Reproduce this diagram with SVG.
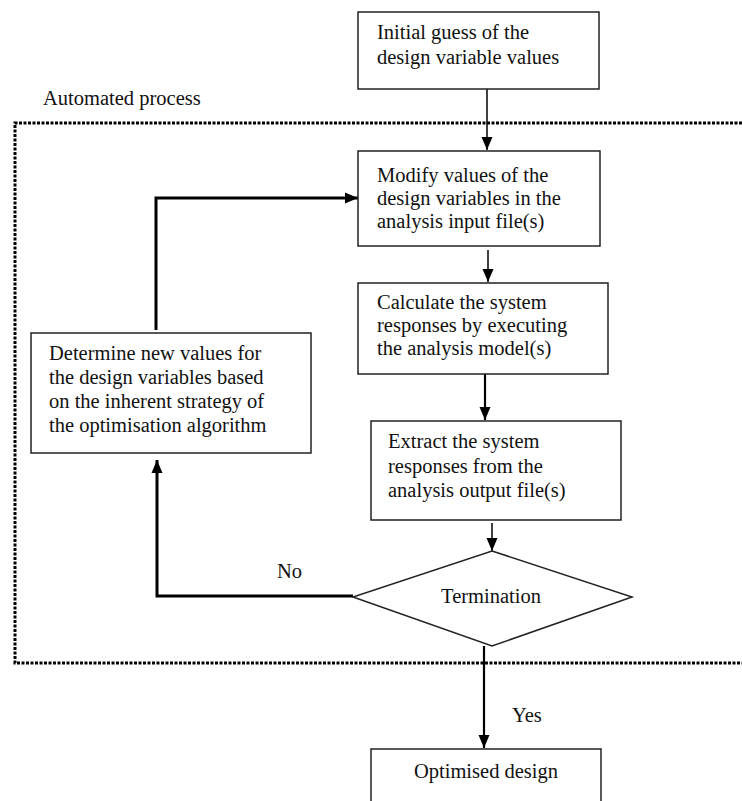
<svg xmlns="http://www.w3.org/2000/svg" width="742" height="801" viewBox="0 0 742 801">
<style>
.box{fill:#fff;stroke:#222;stroke-width:1.5}
.t{font-family:"Liberation Serif","Times New Roman",serif;font-size:20.5px;fill:#111}
.c{fill:none;stroke:#000}
.thin{stroke-width:1.5}
.mid{stroke-width:2.2}
.thick{stroke-width:3}
.dot{fill:none;stroke:#000;stroke-width:3;stroke-dasharray:3 1.5}
</style>
<defs>
<marker id="ah" markerUnits="userSpaceOnUse" markerWidth="14" markerHeight="14" viewBox="0 0 14 14" refX="13" refY="7" orient="auto">
<path d="M0,1.5 L13,7 L0,12.5 Z" fill="#000"/>
</marker>
</defs>
<rect width="742" height="801" fill="#fff"/>
<g id="boundary">
<path class="dot" d="M742,123 H15 V663 H742"/>
<text class="t" x="43" y="105">Automated process</text>
</g>
<g id="connectors">
<path class="c thin" d="M487,89 V150" marker-end="url(#ah)"/>
<path class="c thin" d="M488,250 V282" marker-end="url(#ah)"/>
<path class="c mid" d="M485,374 V420" marker-end="url(#ah)"/>
<path class="c thin" d="M492,523 V551" marker-end="url(#ah)"/>
<path class="c mid" d="M484,646 V748" marker-end="url(#ah)"/>
<path class="c thick" d="M353,596 H157 V460" marker-end="url(#ah)"/>
<path class="c thick" d="M156,330 V198 H358" marker-end="url(#ah)"/>
<text class="t" x="277" y="578">No</text>
<text class="t" x="512" y="722">Yes</text>
</g>
<g id="initial">
<rect class="box" x="358" y="12" width="241" height="77"/>
<text class="t" x="377" y="39">Initial guess of the</text>
<text class="t" x="377" y="64">design variable values</text>
</g>
<g id="modify">
<rect class="box" x="358" y="151" width="242" height="95"/>
<text class="t" x="377" y="182">Modify values of the</text>
<text class="t" x="377" y="205">design variables in the</text>
<text class="t" x="377" y="228">analysis input file(s)</text>
</g>
<g id="calculate">
<rect class="box" x="358" y="283" width="250" height="91"/>
<text class="t" x="377" y="309">Calculate the system</text>
<text class="t" x="377" y="332">responses by executing</text>
<text class="t" x="377" y="355">the analysis model(s)</text>
</g>
<g id="extract">
<rect class="box" x="371" y="421" width="250" height="99"/>
<text class="t" x="388" y="448">Extract the system</text>
<text class="t" x="388" y="473">responses from the</text>
<text class="t" x="388" y="497">analysis output file(s)</text>
</g>
<g id="determine">
<rect class="box" x="31" y="333" width="280" height="120"/>
<text class="t" x="49" y="360">Determine new values for</text>
<text class="t" x="49" y="384">the design variables based</text>
<text class="t" x="49" y="408">on the inherent strategy of</text>
<text class="t" x="49" y="432">the optimisation algorithm</text>
</g>
<g id="termination">
<polygon class="box" points="492,551 632,597 492,646 353,597"/>
<text class="t" x="491" y="603" text-anchor="middle">Termination</text>
</g>
<g id="optimised">
<rect class="box" x="371" y="749" width="230" height="60"/>
<text class="t" x="486" y="778" text-anchor="middle">Optimised design</text>
</g>
</svg>
